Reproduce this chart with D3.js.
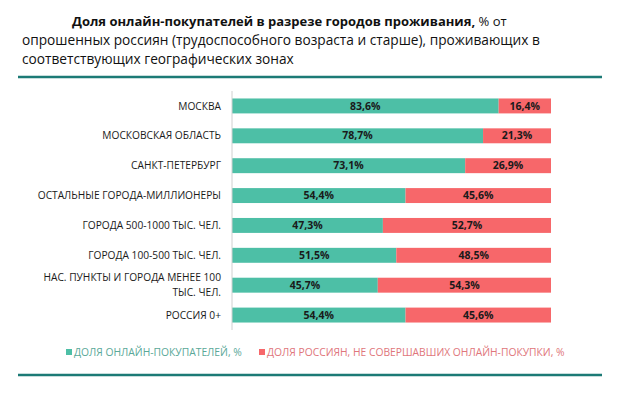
<!DOCTYPE html>
<html>
<head>
<meta charset="utf-8">
<script src="https://cdn.jsdelivr.net/npm/d3@7"></script>
<style>
  body { margin: 0; background: #fff; }
  svg { font-family: "Open Sans", "Noto Sans", sans-serif; }
</style>
</head>
<body>
<script>
  // Data
  var categories = [
    "МОСКВА",
    "МОСКОВСКАЯ ОБЛАСТЬ",
    "САНКТ-ПЕТЕРБУРГ",
    "ОСТАЛЬНЫЕ ГОРОДА-МИЛЛИОНЕРЫ",
    "ГОРОДА 500-1000 ТЫС. ЧЕЛ.",
    "ГОРОДА 100-500 ТЫС. ЧЕЛ.",
    "НАС. ПУНКТЫ И ГОРОДА МЕНЕЕ 100|ТЫС. ЧЕЛ.",
    "РОССИЯ 0+"
  ];
  var buyers = [83.6, 78.7, 73.1, 54.4, 47.3, 51.5, 45.7, 54.4];
  var nonBuyers = [16.4, 21.3, 26.9, 45.6, 52.7, 48.5, 54.3, 45.6];
  var seriesNames = ["ДОЛЯ ОНЛАЙН-ПОКУПАТЕЛЕЙ, %", "ДОЛЯ РОССИЯН, НЕ СОВЕРШАВШИХ ОНЛАЙН-ПОКУПКИ, %"];

  var width = 620;
  var height = 393;
  var colors = ["#4dbfa6", "#f7676a"];
  var legendColors = ["#5aa898", "#e0767b"];
  var ruleColor = "#1c7a76";

  var svg = d3.select("body").append("svg")
              .attr("width", width)
              .attr("height", height);

  // Title
  var title = svg.append("text").attr("fill", "#111").style("font-size", "13.7px");
  var l1 = title.append("tspan").attr("x", 72).attr("y", 26);
  l1.append("tspan").attr("font-weight", "bold").style("font-size", "13px").text("Доля онлайн-покупателей в разрезе городов проживания, ");
  l1.append("tspan").style("font-size", "13px").text("% от");
  title.append("tspan").attr("x", 22).attr("y", 45).text("опрошенных россиян (трудоспособного возраста и старше), проживающих в");
  title.append("tspan").attr("x", 22).attr("y", 64).text("соответствующих географических зонах");

  // Rules
  svg.append("line").attr("x1", 18).attr("x2", 602).attr("y1", 77).attr("y2", 77)
     .attr("stroke", ruleColor).attr("stroke-width", 2.5);
  svg.append("line").attr("x1", 18).attr("x2", 602).attr("y1", 375).attr("y2", 375)
     .attr("stroke", ruleColor).attr("stroke-width", 2.5);

  // Scales
  var x = d3.scaleLinear().domain([0, 100]).range([232, 551]);
  var y = d3.scaleBand().domain(categories).range([91, 330]).paddingInner(0.5).paddingOuter(0.25);

  var rows = categories.map(function(c, i) {
    return { cat: c, vals: [buyers[i], nonBuyers[i]] };
  });

  var g = svg.append("g");
  rows.forEach(function(r) {
    var start = 0;
    r.vals.forEach(function(v, k) {
      g.append("rect")
        .attr("x", x(start))
        .attr("y", y(r.cat))
        .attr("width", x(start + v) - x(start))
        .attr("height", y.bandwidth())
        .attr("fill", colors[k]);
      g.append("text")
        .attr("x", (x(start) + x(start + v)) / 2)
        .attr("y", y(r.cat) + y.bandwidth() / 2)
        .attr("dy", "0.35em")
        .attr("text-anchor", "middle")
        .attr("font-weight", "bold")
        .attr("fill", "#1a1a1a")
        .style("font-size", "10.5px")
        .text(d3.format(".1f")(v).replace(".", ",") + "%");
      start += v;
    });
  });

  // Category axis
  var yAxis = d3.axisLeft(y).tickSize(0).tickPadding(10).tickFormat("");
  var ax = svg.append("g").attr("transform", "translate(232,0)").call(yAxis);
  ax.select(".domain").attr("stroke", "#d0d0d0").attr("d", "M0,91V330");

  rows.forEach(function(r) {
    var parts = r.cat.split("|");
    var cy = y(r.cat) + y.bandwidth() / 2;
    var t = svg.append("text")
      .attr("text-anchor", "end")
      .attr("fill", "#1a1a1a")
      .style("font-size", "10.2px");
    parts.forEach(function(p, j) {
      t.append("tspan")
        .attr("x", 221)
        .attr("y", cy + (j - (parts.length - 1) / 2) * 15)
        .attr("dy", "0.35em")
        .text(p);
    });
  });

  // Legend
  var legend = svg.append("g").style("font-size", "10.3px");
  var lx = [66, 259];
  seriesNames.forEach(function(n, k) {
    legend.append("rect").attr("x", lx[k]).attr("y", 349).attr("width", 6).attr("height", 6).attr("fill", colors[k]);
    legend.append("text").attr("x", lx[k] + 8).attr("y", 352).attr("dy", "0.35em")
      .attr("fill", legendColors[k]).text(n);
  });
</script>
</body>
</html>
